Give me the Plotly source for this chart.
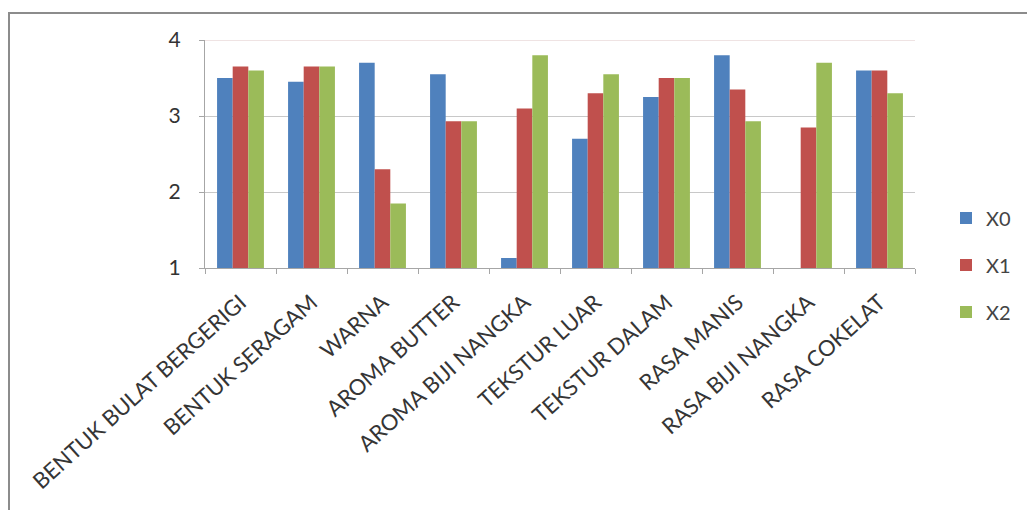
import plotly.graph_objects as go

categories = ["BENTUK BULAT BERGERIGI", "BENTUK SERAGAM", "WARNA", "AROMA BUTTER",
              "AROMA BIJI NANGKA", "TEKSTUR LUAR", "TEKSTUR DALAM", "RASA MANIS",
              "RASA BIJI NANGKA", "RASA COKELAT"]
x0_values = [3.5, 3.45, 3.7, 3.55, 1.13, 2.7, 3.25, 3.8, 1.0, 3.6]
x1_values = [3.65, 3.65, 2.3, 2.93, 3.1, 3.3, 3.5, 3.35, 2.85, 3.6]
x2_values = [3.6, 3.65, 1.85, 2.93, 3.8, 3.55, 3.5, 2.93, 3.7, 3.3]
series_names = ["X0", "X1", "X2"]
colors = ["#4F81BD", "#C0504D", "#9BBB59"]
y_ticks = [1, 2, 3, 4]

fig = go.Figure()
for name, vals, col in zip(series_names, [x0_values, x1_values, x2_values], colors):
    fig.add_trace(go.Bar(x=categories, y=vals, name=name, marker_color=col,
                         marker_line_width=0, legendgroup=name))

W, H = 1027, 510
L, R, T, B = 205, 112, 40, 242
pw, ph = W - L - R, H - T - B

def px_x(p):
    return (p - L) / pw

def px_y(p):
    return (H - B - p) / ph

font = "Lato, 'Open Sans', sans-serif"
fig.update_layout(
    width=W, height=H,
    margin=dict(l=L, r=R, t=T, b=B, autoexpand=False),
    paper_bgcolor="white", plot_bgcolor="white",
    barmode="group", bargap=0.34, bargroupgap=0,
    font=dict(family=font, color="#333333", size=16),
    legend=dict(x=px_x(946), xanchor="left", y=px_y(265), yanchor="middle",
                font=dict(size=20, color="#444444"), tracegroupgap=18,
                itemwidth=30, bgcolor="rgba(0,0,0,0)"),
    xaxis=dict(type="category", tickangle=-42, showgrid=False,
               showline=True, linecolor="#a6a6a6", linewidth=1,
               ticks="outside", tickson="boundaries", ticklen=5, tickcolor="#a6a6a6",
               ticklabelstandoff=12,
               tickfont=dict(size=22, color="#353535")),
    yaxis=dict(range=[1, 4], tickvals=y_ticks, showgrid=True, gridcolor="#c8c8c8",
               gridwidth=1, showline=True, linecolor="#a6a6a6", linewidth=1,
               ticks="outside", ticklen=5, tickcolor="#a6a6a6",
               ticklabelstandoff=14, tickfont=dict(size=21, color="#333333"),
               zeroline=False),
    shapes=[dict(type="rect", xref="paper", yref="paper",
                 x0=px_x(9), x1=px_x(1040), y0=px_y(525), y1=px_y(13),
                 line=dict(color="#8c8c8c", width=2), fillcolor="rgba(0,0,0,0)",
                 layer="below"),
            dict(type="line", xref="paper", yref="y", x0=0, x1=1, y0=4, y1=4,
                 line=dict(color="#e0c8c8", width=1), layer="below")],
)

fig.write_html("out.html")
